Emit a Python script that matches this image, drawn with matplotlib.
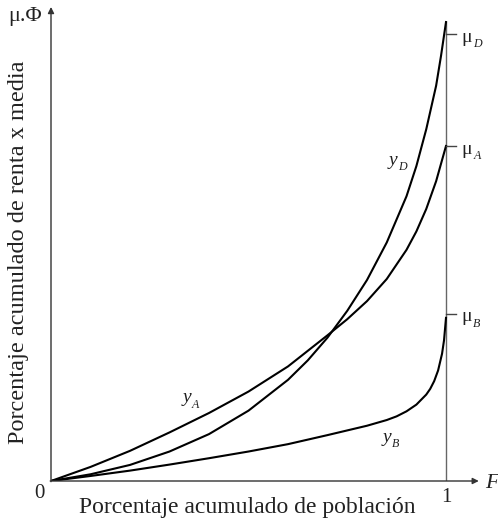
import matplotlib.pyplot as plt
import numpy as np

# curvas (x = población acumulada, y = renta acumulada x media)
x_A = [0, 0.1, 0.2, 0.3, 0.4, 0.5, 0.6, 0.7, 0.75, 0.8, 0.85, 0.9, 0.925, 0.95, 0.975, 1.0]
y_A = [0, 0.042, 0.090, 0.145, 0.203, 0.267, 0.342, 0.435, 0.483, 0.537, 0.603, 0.690,
       0.745, 0.812, 0.895, 1.0]

x_D = [0, 0.1, 0.2, 0.3, 0.4, 0.5, 0.6, 0.65, 0.7, 0.75, 0.8, 0.85, 0.9, 0.925, 0.95,
       0.975, 0.9875, 1.0]
y_D = [0, 0.020, 0.048, 0.088, 0.140, 0.210, 0.302, 0.360, 0.428, 0.508, 0.600, 0.712,
       0.850, 0.940, 1.050, 1.180, 1.270, 1.370]

x_B = [0, 0.1, 0.2, 0.3, 0.4, 0.5, 0.6, 0.7, 0.8, 0.85, 0.875, 0.9, 0.925, 0.95, 0.96,
       0.97, 0.98, 0.99, 0.995, 1.0]
y_B = [0, 0.015, 0.031, 0.049, 0.068, 0.088, 0.110, 0.137, 0.165, 0.182, 0.193, 0.208,
       0.228, 0.258, 0.275, 0.298, 0.330, 0.380, 0.420, 0.487]

medias = [1.335, 1.0, 0.5]
medias_lab = ["D", "A", "B"]

serif = "Liberation Serif"
gris = "#222222"

fig = plt.figure(figsize=(4.98, 5.23), dpi=100)
ax = fig.add_axes([51 / 498, 42 / 523, 395 * 1.1 / 498, 335 * 1.42 / 523])
ax.set_xlim(0, 1.1)
ax.set_ylim(0, 1.42)
ax.axis("off")

# ejes con flecha
flecha = dict(arrowstyle="-|>", color="#333333", lw=1, mutation_scale=9, shrinkA=0, shrinkB=0)
ax.annotate("", xy=(1.083, 0), xytext=(-0.002, 0), arrowprops=flecha)
ax.annotate("", xy=(0, 1.415), xytext=(0, -0.002), arrowprops=flecha)
ax.plot([1, 1], [0, 1.37], color="#666666", lw=1)

ax.plot(x_A, y_A, color="black", lw=1.5)
ax.plot(x_D, y_D, color="black", lw=1.5)
ax.plot(x_B, y_B, color="black", lw=1.5)


def etiqueta(x, y, base, sub, size=14, italic=False, dx=4.5):
    ax.text(x, y, base, fontsize=size, family=serif, ha="center", va="center",
            style="italic" if italic else "normal", color=gris)
    ax.annotate(sub, xy=(x, y), xytext=(dx, -5), textcoords="offset points",
                fontsize=size * 0.62, family=serif, style="italic", ha="left", va="center",
                color=gris)


for m, lab in zip(medias, medias_lab):
    ax.plot([1, 1.025], [m, m], color="#444444", lw=1)
    etiqueta(1.053, m - 0.01, "μ", lab)

etiqueta(0.344, 0.248, "y", "A", italic=True, dx=3.5)
etiqueta(0.866, 0.958, "y", "D", italic=True, dx=3.5)
etiqueta(0.851, 0.131, "y", "B", italic=True, dx=3.5)

fig.text(39 / 498, 1 - 494 / 523, "0", fontsize=15, family=serif, ha="center", va="center",
         color=gris)
fig.text(446 / 498, 1 - 497 / 523, "1", fontsize=15, family=serif, ha="center", va="center",
         color=gris)
fig.text(492 / 498, 1 - 483 / 523, "F", fontsize=16, family=serif, style="italic",
         ha="center", va="center", color=gris)

fig.text(25 / 498, 1 - 16 / 523, "μ.Φ", fontsize=16, family=serif, ha="center", va="center",
         color=gris)
fig.text(247 / 498, 1 - 508 / 523, "Porcentaje acumulado de población", fontsize=17,
         family=serif, ha="center", va="center", color=gris)
fig.text(19 / 498, 1 - 252 / 523, "Porcentaje acumulado de renta x media", fontsize=17.5,
         family=serif, ha="center", va="center", rotation=90, color=gris)

fig.savefig("out.png", dpi=100)
